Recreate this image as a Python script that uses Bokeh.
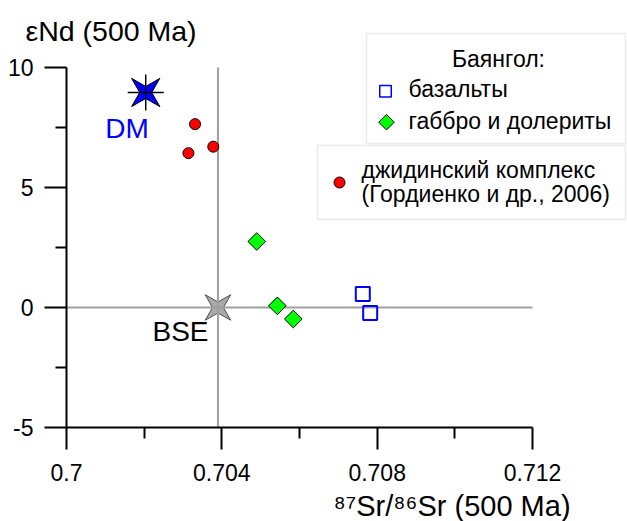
import numpy as np
from bokeh.plotting import figure
from bokeh.models import (Range1d, FixedTicker, CustomJSTickFormatter, Label,
                          BoxAnnotation)
from bokeh.embed import file_html
from bokeh.resources import INLINE

# ---------------- data ----------------
bas_sr = [0.70763, 0.70782]          # Баянгол: базальты
bas_nd = [0.56, -0.23]
gab_sr = [0.70490, 0.70543, 0.70584]  # Баянгол: габбро и долериты
gab_nd = [2.75, 0.07, -0.48]
dzh_sr = [0.70331, 0.70314, 0.70378]  # джидинский комплекс
dzh_nd = [7.64, 6.43, 6.70]
dm_sr, dm_nd = 0.70204, 8.96          # DM
bse_sr, bse_nd = 0.7039, 0.0          # BSE

x_ticks = [0.700, 0.704, 0.708, 0.712]
x_minor = [0.702, 0.706, 0.710]
y_ticks = [-5, 0, 5, 10]
y_minor = [-2.5, 2.5, 7.5]

x_title = "⁸⁷Sr/⁸⁶Sr (500 Ma)"
y_title = "εNd (500 Ma)"
legend_title = "Баянгол:"
legend_labels = ["базальты", "габбро и долериты"]
legend2_lines = ["джидинский комплекс", "(Гордиенко и др., 2006)"]

# ---------------- layout ----------------
W, H = 627, 521
X0, X1 = 0.700, 0.712
Y0, Y1 = -5.0, 10.0
AX_L, AX_R, AX_T, AX_B = 66, 532, 67, 427   # pixel extent of the axes box
FT = 32                                      # frame top (frame reaches right edge)
kx = (X1 - X0) / (AX_R - AX_L)
ky = (Y1 - Y0) / (AX_B - AX_T)
FONT = "Liberation Sans"

p = figure(width=W, height=H, output_backend="svg", toolbar_location=None,
           x_range=Range1d(X0, X0 + (W - AX_L) * kx),
           y_range=Range1d(Y0, Y0 + (AX_B - FT) * ky),
           min_border_left=AX_L, min_border_top=FT,
           min_border_right=0, min_border_bottom=H - AX_B)
p.xgrid.visible = False
p.ygrid.visible = False
p.outline_line_color = None
p.background_fill_color = "white"
p.border_fill_color = "white"

for ax, tk, mn, bd in ((p.xaxis[0], x_ticks, x_minor, (X0, X1)),
                       (p.yaxis[0], y_ticks, y_minor, (Y0, Y1))):
    ax.ticker = FixedTicker(ticks=tk, minor_ticks=mn)
    ax.bounds = bd
    ax.axis_line_width = 2
    ax.axis_line_color = "black"
    ax.major_tick_line_width = 2
    ax.minor_tick_line_width = 2
    ax.major_tick_in = 0
    ax.minor_tick_in = 0
    ax.major_tick_out = 22
    ax.minor_tick_out = 11
    ax.major_label_text_font = FONT
    ax.major_label_text_font_size = "23px"
    ax.major_label_text_color = "black"
p.xaxis[0].formatter = CustomJSTickFormatter(
    code="return tick.toFixed(3).replace(/0+$/, '').replace(/\\.$/, '');")
p.yaxis[0].formatter = CustomJSTickFormatter(code="return tick.toFixed(0);")
p.xaxis[0].major_label_standoff = 14
p.yaxis[0].major_label_standoff = 11


def sx2x(px):
    return X0 + (px - AX_L) * kx


def sy2y(py):
    return Y0 + (AX_B - py) * ky


def star(cx, cy, r_out, r_in):
    xs, ys = [], []
    for i in range(8):
        ang = np.pi / 4 * (i + 1)
        r = r_out if i % 2 == 0 else r_in
        xs.append(cx + r * np.cos(ang) * kx)
        ys.append(cy + r * np.sin(ang) * ky)
    return xs, ys


# legend boxes (behind everything)
for l, t, r, b in ((366, 33, 625, 143), (317, 145, 625, 219)):
    p.add_layout(BoxAnnotation(left=sx2x(l), right=sx2x(r), top=sy2y(t), bottom=sy2y(b),
                               fill_color="white", fill_alpha=1,
                               line_color="#bcbcbc", line_width=1.5, level="underlay"))

# BSE star (under the reference lines)
bx, by = star(bse_sr, bse_nd, 18, 5.5)
p.patches(xs=[bx], ys=[by], fill_color="#a9a9a9", line_color="#505050", line_width=1)

# reference lines through BSE
p.segment(x0=[X0], y0=[bse_nd], x1=[X1], y1=[bse_nd], line_color="#a0a0a0", line_width=2)
p.segment(x0=[bse_sr], y0=[Y0], x1=[bse_sr], y1=[Y1], line_color="#a0a0a0", line_width=2)

# DM star + cross
dx, dy = star(dm_sr, dm_nd, 20, 6)
p.patches(xs=[dx], ys=[dy], fill_color="#0000ff", line_color="black", line_width=1)
p.scatter(x=[dm_sr], y=[dm_nd], marker="cross", size=36, line_color="black", line_width=1.5)

# data
p.scatter(x=dzh_sr, y=dzh_nd, marker="circle", size=11, fill_color="#ff0000",
          line_color="black", line_width=1)
p.scatter(x=gab_sr, y=gab_nd, marker="square", angle=np.pi / 4, size=12.5,
          fill_color="#00ff00", line_color="black", line_width=1)
p.scatter(x=bas_sr, y=bas_nd, marker="square", size=14, fill_color=None,
          line_color="#0000ff", line_width=2)

# legend swatches
p.scatter(x=[sx2x(385)], y=[sy2y(90.7)], marker="square", size=11.5, fill_color=None,
          line_color="#0000ff", line_width=1.5)
p.scatter(x=[sx2x(386)], y=[sy2y(121.7)], marker="square", angle=np.pi / 4, size=11,
          fill_color="#00ff00", line_color="black", line_width=1)
p.scatter(x=[sx2x(339)], y=[sy2y(182)], marker="circle", size=11, fill_color="#ff0000",
          line_color="black", line_width=1)


def dlabel(px, py, text, size, align="left", color="black", place="center"):
    lab = Label(x=sx2x(px), y=sy2y(py), text=text, text_font=FONT,
                text_font_size=size, text_color=color, text_align=align,
                text_baseline="middle")
    p.add_layout(lab, place)


# point labels
dlabel(126.5, 127.5, "DM", "28px", align="center", color="#0000ff")
dlabel(180, 331, "BSE", "28px", align="center")

# legend texts
dlabel(498, 58, legend_title, "23px", align="center")
dlabel(408, 88, legend_labels[0], "23px")
dlabel(408, 120, legend_labels[1], "23px")
dlabel(361, 169, legend2_lines[0], "23px")
dlabel(361, 193, legend2_lines[1], "23px")

# axis titles (in side panels so they are not clipped)
dlabel(25, 30, y_title, "28.5px", place="above")
dlabel(333, 505, x_title, "29px", place="below")

open("out.html", "w").write(file_html(p, INLINE))
